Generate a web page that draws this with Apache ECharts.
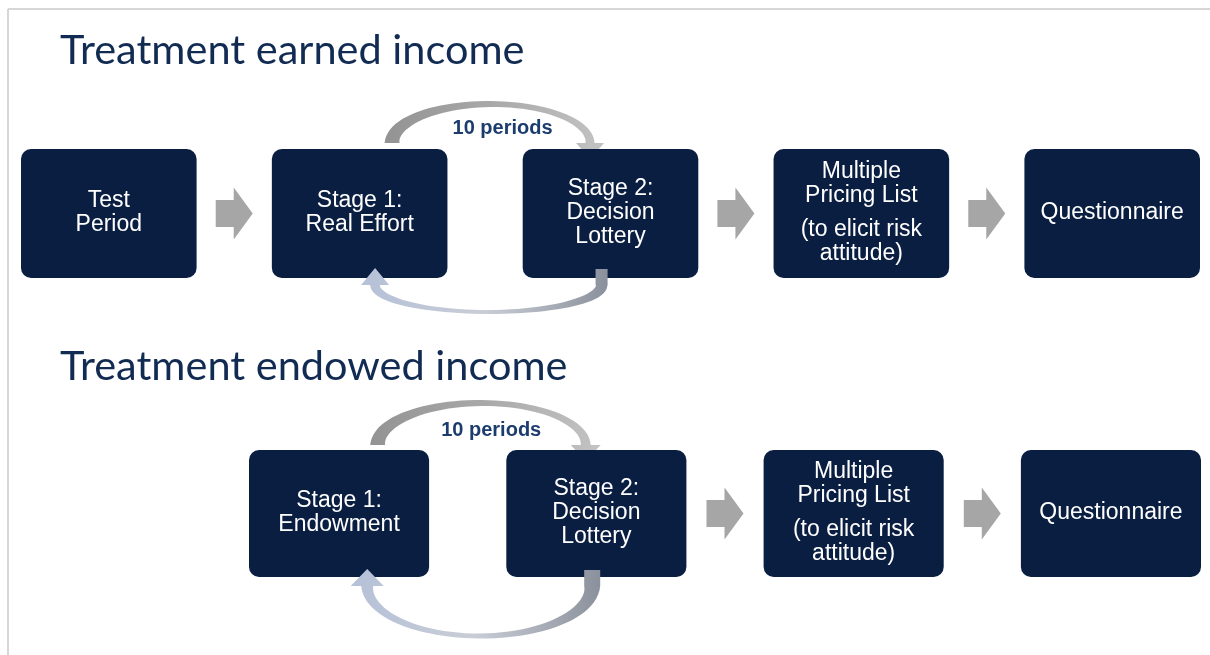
<!DOCTYPE html>
<html>
<head>
<meta charset="utf-8">
<title>Treatment design</title>
<script src="https://cdn.jsdelivr.net/npm/echarts/dist/echarts.min.js"></script>
<style>
    html, body { margin: 0; padding: 0; background: #fff; }
    #container { width: 1210px; height: 655px; }
</style>
</head>
<body>
<div id="container"></div>
<script>
var dom = document.getElementById('container');
var myChart = echarts.init(dom);

// 标题
var titles = ['Treatment earned income', 'Treatment endowed income'];

// 各阶段 (一个框可以有几段文字)
var earnedStages = [
    ['Test\nPeriod'],
    ['Stage 1:\nReal Effort'],
    ['Stage 2:\nDecision\nLottery'],
    ['Multiple\nPricing List', '(to elicit risk\nattitude)'],
    ['Questionnaire']
];
var endowedStages = [
    ['Stage 1:\nEndowment'],
    ['Stage 2:\nDecision\nLottery'],
    ['Multiple\nPricing List', '(to elicit risk\nattitude)'],
    ['Questionnaire']
];

// 循环的两个阶段
var earnedLoop = [1, 2];
var endowedLoop = [0, 1];
var loopLabel = '10 periods';

var boxColor = '#0a1e42';
var arrowColor = '#a6a6a6';
var titleColor = '#112b52';
var textFont = '"Liberation Sans", Arial, sans-serif';

// 每一行的布局
var rows = [
    {
        stages: earnedStages,
        loop: earnedLoop,
        grid: { left: 21, top: 149, width: 1179, height: 129 },
        xMax: 4.35,
        up: { x0: -93, x1: 105, base: -6, ry: 39, t: [15, 6, 9], head: [28, 16], ext: 0, label: [17.5, -21],
              colors: ['#939393', '#a9a9a9', '#c3c3c3'] },
        down: { x0: 116.5, x1: -110, base: 7, ry: 27, t: [12, 4, 10], head: [28, 17], ext: 16,
                colors: ['#b5c1d8', '#c9cdd6', '#8b919c'] }
    },
    {
        stages: endowedStages,
        loop: endowedLoop,
        grid: { left: 249, top: 450, width: 952, height: 127 },
        xMax: 3.35,
        up: { x0: -90, x1: 118, base: -5, ry: 42, t: [15, 6, 10], head: [30, 16], ext: 0, label: [23.5, -20],
              colors: ['#939393', '#a9a9a9', '#c3c3c3'] },
        down: { x0: 124.5, x1: -100.5, base: 9, ry: 50, t: [16, 5, 12], head: [33, 17], ext: 16,
                colors: ['#b5c1d8', '#c9cdd6', '#8b919c'] }
    }
];

//弯曲的循环箭头
function loopShape(api, cfg, sy) {
    var gx = api.coord([api.value(0), 1])[0];
    var top = api.coord([0, 1])[1];
    var bottom = api.coord([0, 0])[1];
    var baseY = (sy < 0 ? top : bottom) + cfg.base;
    var xs = gx + cfg.x0, xe = gx + cfg.x1;
    var cx = (xs + xe) / 2, rx = Math.abs(xe - xs) / 2;
    var dir = xe > xs ? 1 : -1;
    var t = cfg.t;
    function th(s) {
        return t[0] * (1 - s) * (1 - 2 * s) + 4 * t[1] * s * (1 - s) + t[2] * s * (2 * s - 1);
    }
    var outer = [], inner = [];
    var N = 48, nx, ny, ux, uy, px, py;
    for (var i = 0; i <= N; i++) {
        var s = i / N, a = Math.PI * s;
        px = cx - dir * rx * Math.cos(a);
        py = baseY + sy * cfg.ry * Math.sin(a);
        var tx = dir * rx * Math.sin(a), ty = sy * cfg.ry * Math.cos(a);
        var len = Math.sqrt(tx * tx + ty * ty);
        ux = tx / len; uy = ty / len;
        nx = -uy; ny = ux;
        var h = th(s) / 2;
        if (i === 0 && cfg.ext) {
            outer.push([px + nx * h - ux * cfg.ext, py + ny * h - uy * cfg.ext]);
            inner.push([px - nx * h - ux * cfg.ext, py - ny * h - uy * cfg.ext]);
        }
        outer.push([px + nx * h, py + ny * h]);
        inner.push([px - nx * h, py - ny * h]);
    }
    var W = cfg.head[0] / 2, L = cfg.head[1];
    var pts = outer.concat([
        [px + nx * W, py + ny * W],
        [px + ux * L, py + uy * L],
        [px - nx * W, py - ny * W]
    ]).concat(inner.reverse());

    var children = [{
        type: 'polygon',
        shape: { points: pts },
        style: {
            fill: {
                type: 'linear', x: 0, y: 0, x2: 1, y2: 0,
                colorStops: [
                    { offset: 0, color: cfg.colors[0] },
                    { offset: 0.5, color: cfg.colors[1] },
                    { offset: 1, color: cfg.colors[2] }
                ]
            }
        }
    }];
    if (cfg.label) {
        children.push({
            type: 'text',
            style: {
                text: loopLabel,
                x: gx + cfg.label[0],
                y: top + cfg.label[1],
                align: 'center',
                verticalAlign: 'middle',
                fill: '#1d3c6e',
                fontSize: 20,
                fontWeight: 'bold',
                fontFamily: textFont
            }
        });
    }
    return { type: 'group', children: children };
}

function makeRowSeries(row, gi) {
    var stages = row.stages;
    var boxData = stages.map(function (s, i) { return [i, 0.5]; });
    var arrowData = [];
    for (var i = 0; i < stages.length - 1; i++) {
        if (i !== row.loop[0]) {
            arrowData.push([i + 0.5, 0.5]);
        }
    }
    var loopData = [[row.loop[0] + 0.5, 0.5]];

    return [
        {
            type: 'custom', xAxisIndex: gi, yAxisIndex: gi, z: 1,
            data: loopData,
            renderItem: function (params, api) { return loopShape(api, row.up, -1); }
        },
        {
            type: 'custom', xAxisIndex: gi, yAxisIndex: gi, z: 2,
            data: boxData,
            renderItem: function (params, api) {
                var c = api.coord([api.value(0), api.value(1)]);
                var size = api.size([0.7, 1]);
                var text = stages[params.dataIndex].join('\n{gap| }\n');
                return {
                    type: 'group',
                    children: [{
                        type: 'rect',
                        shape: { x: c[0] - size[0] / 2, y: c[1] - size[1] / 2, width: size[0], height: size[1], r: 10 },
                        style: { fill: boxColor }
                    }, {
                        type: 'text',
                        style: {
                            text: text,
                            x: c[0],
                            y: c[1] - 1,
                            align: 'center',
                            verticalAlign: 'middle',
                            fill: '#ffffff',
                            fontSize: 23,
                            lineHeight: 24,
                            fontFamily: textFont,
                            rich: {
                                gap: { fontSize: 8, lineHeight: 10 }
                            }
                        }
                    }]
                };
            }
        },
        {
            type: 'custom', xAxisIndex: gi, yAxisIndex: gi, z: 2,
            data: arrowData,
            renderItem: function (params, api) {
                var c = api.coord([api.value(0), api.value(1)]);
                var l = c[0] - 18.5, y = c[1];
                return {
                    type: 'polygon',
                    shape: {
                        points: [
                            [l, y - 13.5], [l + 18, y - 13.5], [l + 18, y - 26], [l + 37, y],
                            [l + 18, y + 26], [l + 18, y + 13.5], [l, y + 13.5]
                        ]
                    },
                    style: { fill: arrowColor }
                };
            }
        },
        {
            type: 'custom', xAxisIndex: gi, yAxisIndex: gi, z: 3,
            data: loopData,
            renderItem: function (params, api) { return loopShape(api, row.down, 1); }
        }
    ];
}

var series = [];
rows.forEach(function (row, gi) {
    series = series.concat(makeRowSeries(row, gi));
});

option = {
    backgroundColor: '#ffffff',
    animation: false,
    title: [{
        text: titles[0],
        left: 60,
        top: 30,
        padding: 0,
        textStyle: { fontFamily: 'Lato', fontSize: 41.5, fontWeight: 'normal', color: titleColor }
    }, {
        text: titles[1],
        left: 60,
        top: 346,
        padding: 0,
        textStyle: { fontFamily: 'Lato', fontSize: 41.5, fontWeight: 'normal', color: titleColor }
    }],
    graphic: [{
        type: 'line',
        shape: { x1: 8, y1: 9, x2: 1210, y2: 9 },
        style: { stroke: '#d6d6d6', lineWidth: 2 }
    }, {
        type: 'line',
        shape: { x1: 8, y1: 9, x2: 8, y2: 655 },
        style: { stroke: '#d6d6d6', lineWidth: 2 }
    }],
    grid: rows.map(function (r) { return r.grid; }),
    xAxis: rows.map(function (r, i) {
        return { type: 'value', gridIndex: i, min: -0.35, max: r.xMax, show: false };
    }),
    yAxis: rows.map(function (r, i) {
        return { type: 'value', gridIndex: i, min: 0, max: 1, show: false };
    }),
    series: series
};

if (option && typeof option === 'object') {
    myChart.setOption(option, true);
}
</script>
</body>
</html>
